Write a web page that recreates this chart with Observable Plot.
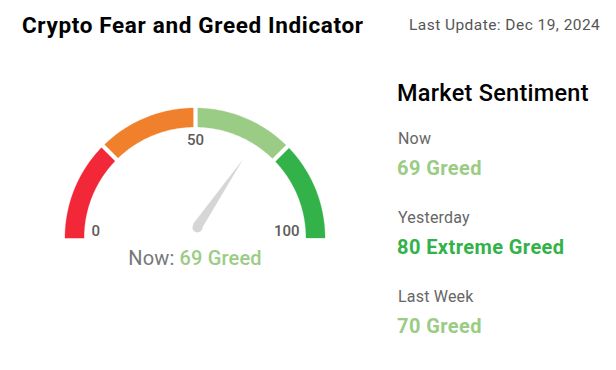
<!DOCTYPE html>
<html>
<head>
<meta charset="utf-8">
<script src="https://cdn.jsdelivr.net/npm/d3@7"></script>
<script src="https://cdn.jsdelivr.net/npm/@observablehq/plot@0.6"></script>
<style>
  html, body { margin: 0; padding: 0; background: #fff; }
  body { font-family: Roboto, "Noto Sans", sans-serif; }
  #wrap { position: relative; width: 616px; height: 370px; overflow: hidden; }
  #chart { position: absolute; left: 0; top: 0; }
  .t { position: absolute; line-height: 1; white-space: nowrap; }
  #title { left: 22px; top: 14.1px; font-size: 22.5px; font-weight: 700; color: #000; letter-spacing: 0.65px; }
  #update { left: 409px; top: 17.5px; font-size: 15.5px; color: #555; letter-spacing: 0.45px; }
  #caption { left: 0; width: 390px; text-align: center; top: 248px; font-size: 20px; color: #777; letter-spacing: 0.15px; }
  #panelTitle { left: 397px; top: 82px; font-size: 23.5px; font-weight: 500; color: #000; letter-spacing: 0.27px; }
  .plabel { font-size: 16px; color: #666; letter-spacing: 0.2px; }
  .pvalue { font-size: 20px; font-weight: 700; letter-spacing: 0.42px; }
</style>
</head>
<body>
<div id="wrap">
  <div id="chart"></div>
  <div class="t" id="title"></div>
  <div class="t" id="update"></div>
  <div class="t" id="caption"></div>
  <div class="t" id="panelTitle"></div>
</div>
<script>
// ---- data ----
const chartTitle = "Crypto Fear and Greed Indicator";
const lastUpdate = "Last Update: Dec 19, 2024";
const segmentStarts = [0, 25, 50, 75];
const segmentEnds = [25, 50, 75, 100];
const segmentColors = ["#f22738", "#f0802c", "#9bcc85", "#34b24a"];
const tickValues = [0, 50, 100];
const nowValue = 69;
const nowLabel = "Greed";
const panelTitle = "Market Sentiment";
const sentimentPeriods = ["Now", "Yesterday", "Last Week"];
const sentimentValues = [69, 80, 70];
const sentimentLabels = ["Greed", "Extreme Greed", "Greed"];

// ---- helpers ----
const innerR = 111 / 130;
const angle = v => Math.PI * (1 - v / 100);
const colorOf = v => {
  for (let i = 0; i < segmentStarts.length; i++) {
    if (v >= segmentStarts[i] && v < segmentEnds[i]) return segmentColors[i];
  }
  return segmentColors[segmentColors.length - 1];
};

// arc bands
const bandMarks = segmentStarts.map((s, i) => {
  const e = segmentEnds[i];
  const pts = d3.range(0, 81).map(k => {
    const v = s + (e - s) * k / 80;
    const a = angle(v);
    return {x1: Math.cos(a), y1: Math.sin(a), x2: innerR * Math.cos(a), y2: innerR * Math.sin(a)};
  });
  return Plot.area(pts, {x1: "x1", y1: "y1", x2: "x2", y2: "y2", fill: segmentColors[i], stroke: segmentColors[i], strokeWidth: 0.3});
});

// white gaps at segment boundaries
const boundaries = segmentStarts.slice(1).map(v => {
  const a = angle(v);
  return {x1: 0.8 * Math.cos(a), y1: 0.8 * Math.sin(a), x2: 1.05 * Math.cos(a), y2: 1.05 * Math.sin(a)};
});

// tick labels
const tickData = tickValues.map(v => {
  const a = angle(v);
  const c = Math.cos(a);
  return {
    label: String(v),
    x: 0.8 * c,
    y: Math.max(0.755 * Math.sin(a), 0.055),
    anchor: c < -0.3 ? "start" : c > 0.3 ? "end" : "middle"
  };
});

// needle
const pivot = {x: 0.015, y: 0.085};
const needleLen = 0.63;
const na = angle(nowValue);
const dir = {x: Math.cos(na), y: Math.sin(na)};
const perp = {x: -dir.y, y: dir.x};
const hw = 5 / 130;
const tip = {x: pivot.x + needleLen * dir.x, y: pivot.y + needleLen * dir.y};
const needle = [
  {x1: pivot.x + hw * perp.x, y1: pivot.y + hw * perp.y, x2: pivot.x - hw * perp.x, y2: pivot.y - hw * perp.y},
  {x1: tip.x, y1: tip.y, x2: tip.x, y2: tip.y}
];
const needleColor = "#d6d6d6";

const plot = Plot.plot({
  width: 616,
  height: 370,
  margin: 0,
  x: {domain: [-1, 1], range: [65, 325], axis: null},
  y: {domain: [0, 1], range: [238, 108], axis: null},
  style: {background: "transparent", overflow: "visible", fontFamily: "Roboto, sans-serif"},
  marks: [
    ...bandMarks,
    Plot.link(boundaries, {x1: "x1", y1: "y1", x2: "x2", y2: "y2", stroke: "#fff", strokeWidth: 4.2}),
    Plot.area(needle, {x1: "x1", y1: "y1", x2: "x2", y2: "y2", fill: needleColor}),
    Plot.dot([pivot], {x: "x", y: "y", r: 5, fill: needleColor}),
    ...["start", "middle", "end"].map(anc =>
      Plot.text(tickData.filter(d => d.anchor === anc), {
        x: "x", y: "y", text: "label", textAnchor: anc, lineAnchor: "middle",
        fontSize: 15, fontWeight: 500, fill: "#5b5b5b"
      })
    )
  ]
});
document.getElementById("chart").appendChild(plot);

// texts
document.getElementById("title").textContent = chartTitle;
document.getElementById("update").textContent = lastUpdate;
document.getElementById("panelTitle").textContent = panelTitle;
const cap = document.getElementById("caption");
cap.innerHTML = "";
cap.appendChild(document.createTextNode("Now: "));
const capVal = document.createElement("span");
capVal.textContent = nowValue + " " + nowLabel;
capVal.style.color = colorOf(nowValue);
capVal.style.fontWeight = 500;
cap.appendChild(capVal);

const wrap = document.getElementById("wrap");
const labelBaselines = [144, 223, 302];
sentimentPeriods.forEach((p, i) => {
  const l = document.createElement("div");
  l.className = "t plabel";
  l.textContent = p;
  l.style.left = "398px";
  l.style.top = (labelBaselines[i] - 0.8415 * 16) + "px";
  wrap.appendChild(l);
  const v = document.createElement("div");
  v.className = "t pvalue";
  v.textContent = sentimentValues[i] + " " + sentimentLabels[i];
  v.style.left = "397px";
  v.style.top = (labelBaselines[i] + 30.5 - 0.8415 * 20) + "px";
  v.style.color = colorOf(sentimentValues[i]);
  wrap.appendChild(v);
});
</script>
</body>
</html>
